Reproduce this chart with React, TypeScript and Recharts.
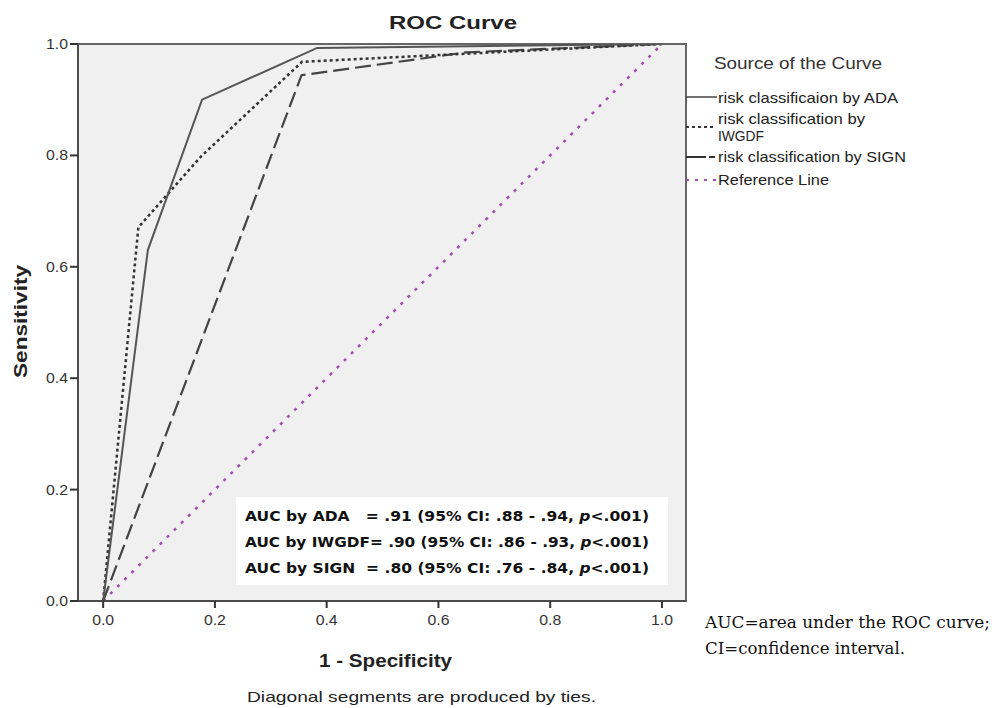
import React from "react";
import {
  LineChart,
  Line,
  XAxis,
  YAxis,
  CartesianGrid,
  ReferenceArea,
} from "recharts";

// ROC points: [1 - specificity, sensitivity]
const adaPoints = [
  [0, 0],
  [0.08, 0.63],
  [0.177, 0.9],
  [0.383, 0.993],
  [1, 1],
];
const iwgdfPoints = [
  [0, 0],
  [0.063, 0.671],
  [0.175, 0.798],
  [0.356, 0.968],
  [1, 1],
];
const signPoints = [
  [0, 0],
  [0.355, 0.944],
  [0.65, 0.985],
  [1, 1],
];
const referencePoints = [
  [0, 0],
  [1, 1],
];

const ticks = [0, 0.2, 0.4, 0.6, 0.8, 1.0];

const aucLines = [
  { label: "AUC by ADA   = .91 (95% CI: .88 - .94, ", p: "<.001)" },
  { label: "AUC by IWGDF= .90 (95% CI: .86 - .93, ", p: "<.001)" },
  { label: "AUC by SIGN  = .80 (95% CI: .76 - .84, ", p: "<.001)" },
];

const toRows = (pts: number[][]) => pts.map(([x, y]) => ({ x, y }));

const SANS = "'Liberation Sans', Arial, sans-serif";

// text stretched to the width it has in the picture
function T(props: any) {
  const { w, children, ...rest } = props;
  return (
    <text
      fontFamily={SANS}
      fill="#222"
      textLength={w}
      lengthAdjust="spacingAndGlyphs"
      {...rest}
    >
      {children}
    </text>
  );
}

function XTick({ x, y, payload }: any) {
  return (
    <T x={x} y={y + 13} textAnchor="middle" fontSize={15} fill="#333" w={22}>
      {Number(payload.value).toFixed(1)}
    </T>
  );
}

function YTick({ x, y, payload }: any) {
  return (
    <T x={x} y={y + 5} textAnchor="end" fontSize={15} fill="#333" w={22}>
      {Number(payload.value).toFixed(1)}
    </T>
  );
}

export default function App() {
  return (
    <div style={{ position: "absolute", left: 0, top: 0, width: 992, height: 708 }}>
      <LineChart
        width={992}
        height={708}
        margin={{ top: 44, right: 306, bottom: 77, left: 18 }}
      >
        <CartesianGrid fill="#f0f0f0" horizontal={false} vertical={false} />
        <XAxis
          type="number"
          dataKey="x"
          domain={[-0.045, 1.043]}
          allowDataOverflow
          ticks={ticks}
          height={30}
          tickSize={7}
          tickMargin={4}
          tick={<XTick />}
          axisLine={{ stroke: "#333" }}
          tickLine={{ stroke: "#333", strokeWidth: 2 }}
        />
        <YAxis
          type="number"
          dataKey="y"
          domain={[0, 1]}
          allowDataOverflow
          ticks={ticks}
          width={60}
          tickSize={8}
          tickMargin={2}
          tick={<YTick />}
          axisLine={{ stroke: "#333" }}
          tickLine={{ stroke: "#333", strokeWidth: 2 }}
        />
        <ReferenceArea
          x1={-0.045}
          x2={1.043}
          y1={0}
          y2={1}
          fill="none"
          stroke="#666"
          strokeWidth={2}
          fillOpacity={0}
        />
        <Line
          data={toRows(referencePoints)}
          dataKey="y"
          stroke="#a04cb0"
          strokeWidth={2.5}
          strokeDasharray="3 7"
          dot={false}
          isAnimationActive={false}
        />
        <Line
          data={toRows(signPoints)}
          dataKey="y"
          stroke="#444"
          strokeWidth={2.2}
          strokeDasharray="16 6"
          dot={false}
          isAnimationActive={false}
        />
        <Line
          data={toRows(iwgdfPoints)}
          dataKey="y"
          stroke="#333"
          strokeWidth={2.5}
          strokeDasharray="3 3"
          dot={false}
          isAnimationActive={false}
        />
        <Line
          data={toRows(adaPoints)}
          dataKey="y"
          stroke="#555"
          strokeWidth={2}
          dot={false}
          isAnimationActive={false}
        />
      </LineChart>

      <svg
        width={992}
        height={708}
        style={{ position: "absolute", left: 0, top: 0, pointerEvents: "none" }}
      >
        <T x={389} y={29} fontWeight="bold" fontSize={19} w={128}>
          ROC Curve
        </T>
        <T x={319} y={667} fontWeight="bold" fontSize={18} w={133}>
          1 - Specificity
        </T>
        <T
          x={27}
          y={378}
          fontWeight="bold"
          fontSize={19}
          w={113}
          transform="rotate(-90 27 378)"
        >
          Sensitivity
        </T>
        <T x={247} y={702} fontSize={15} w={349}>
          Diagonal segments are produced by ties.
        </T>

        {/* AUC box */}
        <rect x={236} y={497} width={432} height={88} fill="#fff" />
        {aucLines.map((l, i) => (
          <text
            key={i}
            x={245}
            y={521 + i * 26}
            fontFamily="'DejaVu Sans', sans-serif"
            fontWeight="bold"
            fontSize={14.5}
            fill="#111"
            textLength={404}
            lengthAdjust="spacingAndGlyphs"
            style={{ whiteSpace: "pre" }}
          >
            {l.label}
            <tspan fontStyle="italic">p</tspan>
            {l.p}
          </text>
        ))}

        {/* legend */}
        <T x={714} y={69} fontSize={17} fill="#333" w={168}>
          Source of the Curve
        </T>
        <line x1={686} y1={97} x2={717} y2={97} stroke="#444" strokeWidth={1.5} />
        <T x={718} y={103} fontSize={15} w={180}>
          risk classificaion by ADA
        </T>
        <line x1={686} y1={127} x2={715} y2={127} stroke="#333" strokeWidth={2} strokeDasharray="3 3" />
        <T x={718} y={124} fontSize={15} w={147}>
          risk classification by
        </T>
        <T x={718} y={141} fontSize={15} w={46}>
          IWGDF
        </T>
        <line x1={686} y1={157} x2={706} y2={157} stroke="#333" strokeWidth={2} />
        <line x1={709} y1={157} x2={715} y2={157} stroke="#333" strokeWidth={2} />
        <T x={718} y={162} fontSize={15} w={188}>
          risk classification by SIGN
        </T>
        <line x1={686} y1={180} x2={716} y2={180} stroke="#a04cb0" strokeWidth={2} strokeDasharray="3 6" />
        <T x={718} y={185} fontSize={15} w={111}>
          Reference Line
        </T>

        {/* footnote */}
        <text x={705} y={628} fontFamily="'DejaVu Serif', serif" fontSize={17} fill="#111" textLength={285} lengthAdjust="spacingAndGlyphs">
          AUC=area under the ROC curve;
        </text>
        <text x={705} y={654} fontFamily="'DejaVu Serif', serif" fontSize={17} fill="#111" textLength={200} lengthAdjust="spacingAndGlyphs">
          CI=confidence interval.
        </text>
      </svg>
    </div>
  );
}
